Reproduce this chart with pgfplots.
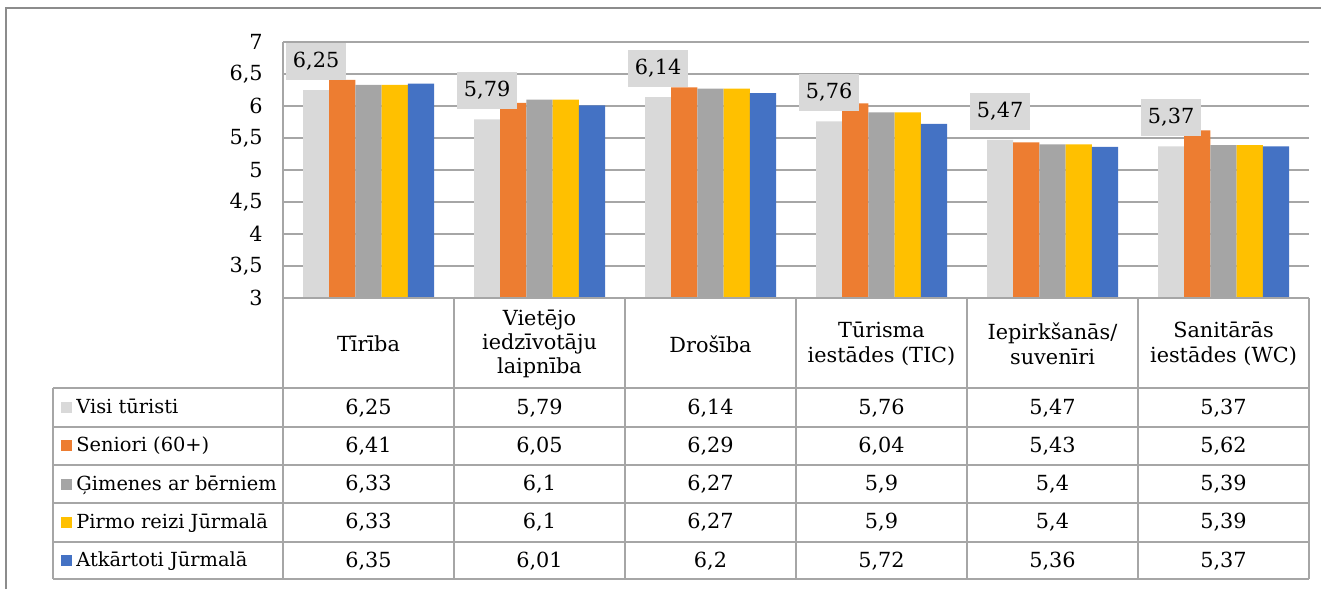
\documentclass[border=0pt]{standalone}
\usepackage{pgfplots}
\pgfplotsset{compat=1.18}
\usepackage{pgfplotstable}
\usepackage{fontspec}
\setmainfont{DejaVu Serif}
\definecolor{cA}{HTML}{D9D9D9}
\definecolor{cB}{HTML}{ED7D31}
\definecolor{cC}{HTML}{A5A5A5}
\definecolor{cD}{HTML}{FFC000}
\definecolor{cE}{HTML}{4472C4}
\definecolor{gridc}{HTML}{A6A6A6}
\definecolor{framec}{HTML}{8C8C8C}
\pgfplotstableread{
x A B C D E
0 6.25 6.41 6.33 6.33 6.35
1 5.79 6.05 6.10 6.10 6.01
2 6.14 6.29 6.27 6.27 6.20
3 5.76 6.04 5.90 5.90 5.72
4 5.47 5.43 5.40 5.40 5.36
5 5.37 5.62 5.39 5.39 5.37
}\data
\newcommand\fs{\fontsize{9.7}{12.2}\selectfont}
\newcommand\fsn{\fontsize{10.4}{12.2}\selectfont}
\begin{document}
\begin{tikzpicture}[x=0.5pt,y=-0.5pt]
\useasboundingbox (0,0) rectangle (1321,589);
\begin{axis}[
  at={(141.5pt,-21pt)}, anchor=north west,
  scale only axis, width=513pt, height=128pt,
  ymin=3, ymax=7, xmin=-0.5, xmax=5.5,
  ybar=0pt, bar width=13.1pt,
  ytick={3,3.5,4,4.5,5,5.5,6,6.5,7},
  xtick=\empty,
  ymajorgrids, grid style={gridc, line width=0.6pt},
  axis line style={draw=none},
  major tick length=0pt,
  clip=false,
  /pgf/number format/use comma,
  /pgf/number format/assume math mode=true,
  yticklabel style={font=\fsn, anchor=east, inner sep=0pt, xshift=-10pt},
]
\addplot[fill=cA, draw=none, nodes near coords,
  every node near coord/.append style={fill=cA, font=\fsn, minimum width=30pt, minimum height=18.5pt, inner sep=0pt, anchor=south, yshift=5pt}] table[x=x,y=A]{\data};
\addplot[fill=cB, draw=none] table[x=x,y=B]{\data};
\addplot[fill=cC, draw=none] table[x=x,y=C]{\data};
\addplot[fill=cD, draw=none] table[x=x,y=D]{\data};
\addplot[fill=cE, draw=none] table[x=x,y=E]{\data};
\end{axis}
% frame
\draw[framec, line width=1.1pt] (6,589) -- (6,8) -- (1321,8);
% table lines
\begin{scope}[draw=gridc, line width=0.6pt]
\draw (283,42) -- (283,579);
\draw (283,298) -- (1309,298);
\foreach \yy in {388,427,465,503,542,579} \draw (53,\yy) -- (1309,\yy);
\foreach \xx in {454,625,796,967,1138,1309} \draw (\xx,298) -- (\xx,579);
\draw (53,388) -- (53,579);
\end{scope}
% header
\foreach \i/\t in {0/{Tīrība}, 1/{Vietējo\\iedzīvotāju\\laipnība}, 2/{Drošība}, 3/{Tūrisma\\iestādes (TIC)}, 4/{Iepirkšanās/\\suvenīri}, 5/{Sanitārās\\iestādes (WC)}}
  \node[align=center, font=\fsn] at ({368.5+171*\i},344) {\t};
% row labels
\foreach \j/\name/\col in {0/Visi tūristi/cA, 1/Seniori (60+)/cB, 2/Ģimenes ar bērniem/cC, 3/Pirmo reizi Jūrmalā/cD, 4/Atkārtoti Jūrmalā/cE} {
  \fill[\col] (61,{402+38.25*\j}) rectangle ++(11,11);
  \node[anchor=base west, font=\fs, inner sep=0pt] at (76,{413.5+38.25*\j}) {\name};
}
% numbers
\foreach \c in {0,...,5} {
  \foreach \s/\j in {A/0,B/1,C/2,D/3,E/4} {
    \pgfplotstablegetelem{\c}{\s}\of\data
    \let\val\pgfplotsretval
    \node[anchor=base, font=\fsn, inner sep=0pt] at ({368.5+171*\c},{414+38.25*\j}) {\pgfmathprintnumber[use comma, assume math mode=true]{\val}};
  }
}
\end{tikzpicture}
\end{document}
